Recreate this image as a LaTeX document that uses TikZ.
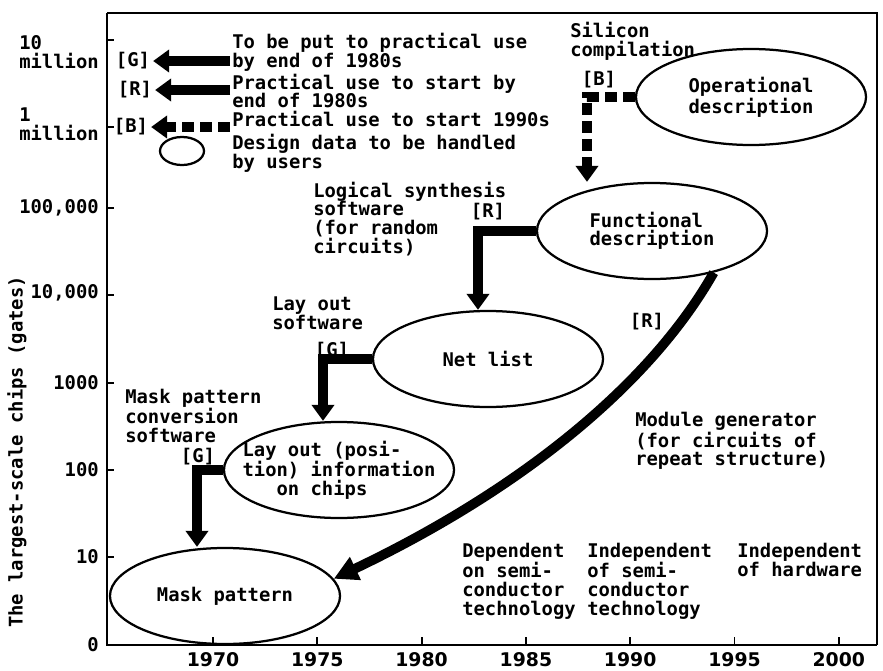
\documentclass[tikz,border=0pt]{standalone}
\usepackage{fontspec}
\setmonofont{DejaVu Sans Mono}
\setsansfont{DejaVu Sans}
\usepackage{tikz}
\usetikzlibrary{shapes.geometric, arrows.meta}

\tikzset{
  txt/.style={font=\ttfamily\bfseries\fontsize{13.4}{13.4}\selectfont, align=left, inner sep=0pt},
  tag/.style={txt, inner xsep=2pt},
  yearlbl/.style={font=\sffamily\bfseries\fontsize{13.4}{13.4}\selectfont, inner sep=0pt},
  datanode/.style={ellipse, draw, line width=1.6pt, minimum width=5.75cm, minimum height=2.4cm,
    inner xsep=-0.45cm, inner ysep=0pt, align=left,
    font=\ttfamily\bfseries\fontsize{13.4}{13.2}\selectfont},
  keyellipse/.style={ellipse, draw, line width=1.6pt, minimum width=1.1cm, minimum height=0.7cm, inner sep=0pt},
  solidflow/.style={line width=0.25cm, -{Triangle[length=0.4cm, width=0.55cm]}},
  dashflow/.style={solidflow, dash pattern=on 0.3cm off 0.15cm},
  curveflow/.style={line width=0.24cm, -{Triangle[length=0.6cm, width=0.6cm]}}
}

\begin{document}
\begin{tikzpicture}[x=0.025cm, y=-0.025cm]
        \useasboundingbox (0,0) rectangle (883,671);

        % Frame and axes
        \draw[line width=1.4pt] (107,13) -- (877,13) -- (877,645);
        \draw[line width=2pt] (107,13) -- (107,645) -- (877,645);
        \foreach \y in {40,127,208,295,383,470,557} {
          \draw[line width=1.4pt] (107,\y) -- (114,\y);
        }
        \foreach \yr [count=\k from 0] in {1970,1975,...,2000} {
          \draw[line width=1.4pt] (213+104.3*\k,645) -- (213+104.3*\k,637);
          \node[yearlbl] (yr\yr) at (213+104.3*\k,660) {\yr};
        }

        % y labels
        \node[txt, anchor=east] (ylab7) at (99,52) {10\\million};
        \node[txt, anchor=east] (ylab6) at (99,124) {1\\million};
        \node[txt, anchor=east] (ylab5) at (99,208) {100,000};
        \node[txt, anchor=east] (ylab4) at (99,293) {10,000};
        \node[txt, anchor=east] (ylab3) at (99,383) {1000};
        \node[txt, anchor=east] (ylab2) at (99,470) {100};
        \node[txt, anchor=east] (ylab1) at (99,557) {10};
        \node[txt, anchor=east] (ylab0) at (99,645) {0};
        \node[txt, rotate=90] (ytitle) at (17,452) {The largest-scale chips (gates)};

        % Key
        \node[txt, anchor=west] (keyg) at (232,52) {To be put to practical use\\by end of 1980s};
        \node[txt, anchor=west] (keyr) at (232,91) {Practical use to start by\\end of 1980s};
        \node[txt, anchor=west] (keyb) at (232,119) {Practical use to start 1990s};
        \node[txt, anchor=west] (keyd) at (232,153) {Design data to be handled\\by users};
        \node[keyellipse] (keyell) at (182,151) {};
        \node[tag] (tagg) at (133,61) {[G]};
        \node[tag] (tagr) at (135,90) {[R]};
        \node[tag] (tagb) at (131,127) {[B]};
        \coordinate (gkey) at (230,61);
        \coordinate (rkey) at (230,90);
        \coordinate (bkey) at (230,127);
        \draw[solidflow] (gkey) -- (tagg.east);
        \draw[solidflow] (rkey) -- (tagr.east);
        \draw[dashflow] (bkey) -- (tagb.east);

        % Design data
        \node[datanode] (opdesc) at (751,97) {Operational\\description};
        \node[datanode] (fundesc) at (652,231) {Functional\\description};
        \node[datanode] (netlist) at (488,359) {Net list};
        \node[datanode] (layout) at (339,470) {Lay out (posi-\\tion) information\\\phantom{tio}on chips};
        \node[datanode] (mask) at (225,596) {Mask pattern};

        % Software
        \node[txt, anchor=west] (silcomp) at (570,41) {Silicon\\compilation};
        \node[txt, anchor=west] (logsyn) at (313,219) {Logical synthesis\\software\\(for random\\circuits)};
        \node[txt, anchor=west] (laysw) at (272,313) {Lay out\\software};
        \node[txt, anchor=west] (masksw) at (125,416) {Mask pattern\\conversion\\software};
        \node[txt, anchor=west] (modgen) at (635,441) {Module generator\\(for circuits of\\repeat structure)};
        \node[tag] (tagop) at (599,80) {[B]};
        \node[tag] (tagfun) at (488,212) {[R]};
        \node[tag] (tagnet) at (332,351) {[G]};
        \node[tag] (taglay) at (198,457) {[G]};
        \node[tag] (tagmod) at (647,322) {[R]};

        % Flows
        \coordinate (bdrop) at (587,0);
        \coordinate (rdrop) at (478,0);
        \coordinate (gdrop) at (323,0);
        \coordinate (mdrop) at (197,0);
        \draw[dashflow] (opdesc.west) -| (bdrop |- fundesc.north);
        \draw[solidflow] (fundesc.west) -| (rdrop |- netlist.north);
        \draw[solidflow] (netlist.west) -| (gdrop |- layout.north);
        \draw[solidflow] (layout.west) -| (mdrop |- mask.north);
        \draw[curveflow] (fundesc.-34) .. controls (650,385) and (520,490) .. (mask.9);

        % Technology
        \node[txt, anchor=west] (dependent) at (462,581) {Dependent\\on semi-\\conductor\\technology};
        \node[txt, anchor=west] (indepsemi) at (587,581) {Independent\\of semi-\\conductor\\technology};
        \node[txt, anchor=west] (indephw) at (737,560) {Independent\\of hardware};
      \end{tikzpicture}
\end{document}
